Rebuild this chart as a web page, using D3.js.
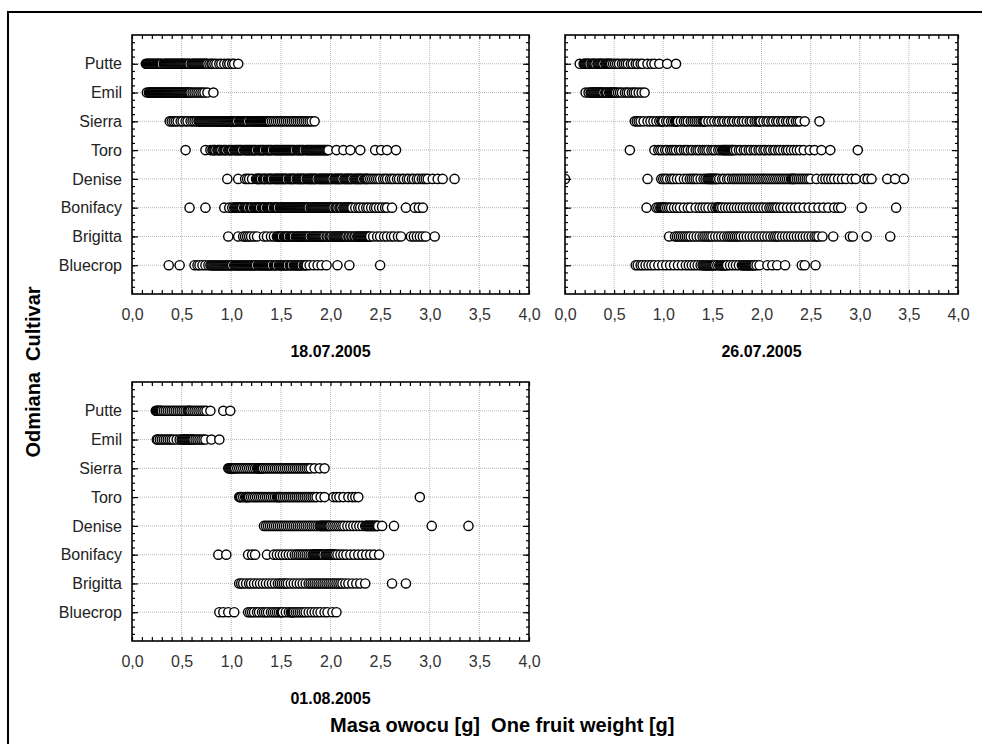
<!DOCTYPE html>
<html lang="pl">
<head>
<meta charset="utf-8">
<title>Masa owocu - odmiany</title>
<script src="https://d3js.org/d3.v7.min.js"></script>
<style>
  body { margin: 0; background: #fff; }
  text { font-family: "Liberation Sans", Arial, sans-serif; }
  .tick text { font-size: 16px; fill: #333; }
  .cat .tick text { fill: #222; }
  .date { font-size: 16px; font-weight: bold; }
  .title { font-size: 20px; font-weight: bold; }
</style>
</head>
<body>
<svg width="982" height="744"></svg>
<script>
// cultivars, top to bottom
const cultivars = ["Putte", "Emil", "Sierra", "Toro", "Denise", "Bonifacy", "Brigitta", "Bluecrop"];
const dates = ["18.07.2005", "26.07.2005", "01.08.2005"];

// --- 18.07.2005, one fruit weight [g]
const putte18 = [0.14,0.15,0.16,0.17,0.18,0.19,0.20,0.21,0.22,0.23,0.24,0.25,0.26,0.27,0.28,0.29,0.30,0.32,0.33,0.34,0.35,0.36,0.37,0.38,0.39,0.40,0.41,0.42,0.43,0.44,0.45,0.46,0.47,0.48,0.49,0.50,0.51,0.52,0.53,0.54,0.55,0.56,0.57,0.58,0.60,0.61,0.62,0.63,0.64,0.65,0.66,0.67,0.68,0.69,0.70,0.71,0.72,0.73,0.74,0.75,0.76,0.78,0.80,0.81,0.83,0.85,0.88,0.90,0.93,0.96,0.98,1.01,1.03,1.07];
const emil18 = [0.15,0.17,0.18,0.19,0.20,0.21,0.22,0.23,0.24,0.25,0.26,0.27,0.28,0.29,0.30,0.31,0.32,0.33,0.34,0.35,0.36,0.37,0.38,0.39,0.40,0.41,0.42,0.43,0.44,0.45,0.46,0.47,0.48,0.49,0.50,0.51,0.52,0.53,0.54,0.55,0.56,0.57,0.58,0.59,0.61,0.63,0.65,0.67,0.69,0.71,0.73,0.76,0.82];
const sierra18 = [0.38,0.40,0.42,0.44,0.46,0.49,0.51,0.54,0.56,0.59,0.61,0.63,0.65,0.67,0.68,0.69,0.70,0.71,0.72,0.73,0.74,0.75,0.76,0.77,0.78,0.79,0.80,0.81,0.82,0.83,0.84,0.85,0.86,0.87,0.88,0.89,0.90,0.91,0.92,0.93,0.94,0.95,0.96,0.97,0.98,0.99,1.00,1.01,1.02,1.03,1.04,1.05,1.06,1.08,1.09,1.10,1.11,1.12,1.13,1.14,1.15,1.16,1.17,1.19,1.20,1.21,1.22,1.23,1.24,1.25,1.26,1.27,1.28,1.29,1.30,1.31,1.32,1.33,1.34,1.35,1.36,1.37,1.38,1.39,1.41,1.43,1.45,1.47,1.49,1.51,1.53,1.55,1.57,1.59,1.61,1.63,1.65,1.67,1.69,1.71,1.73,1.75,1.77,1.79,1.81,1.84];
const toro18 = [0.54,0.74,0.79,0.81,0.82,0.83,0.84,0.86,0.87,0.88,0.89,0.90,0.92,0.93,0.94,0.95,0.97,0.98,0.99,1.00,1.01,1.03,1.04,1.05,1.06,1.07,1.08,1.09,1.10,1.11,1.13,1.14,1.15,1.16,1.17,1.18,1.19,1.20,1.21,1.22,1.23,1.24,1.25,1.27,1.28,1.29,1.30,1.31,1.32,1.33,1.35,1.36,1.37,1.38,1.39,1.40,1.41,1.43,1.44,1.45,1.46,1.47,1.48,1.49,1.50,1.51,1.52,1.53,1.54,1.55,1.56,1.57,1.58,1.59,1.60,1.61,1.62,1.63,1.64,1.66,1.67,1.68,1.69,1.70,1.71,1.72,1.73,1.75,1.76,1.77,1.78,1.79,1.80,1.81,1.82,1.83,1.84,1.85,1.86,1.87,1.88,1.89,1.90,1.91,1.92,1.93,1.94,1.95,1.96,1.97,1.98,2.06,2.13,2.20,2.30,2.45,2.51,2.57,2.66];
const denise18 = [0.96,1.07,1.14,1.16,1.18,1.21,1.25,1.26,1.27,1.28,1.29,1.30,1.32,1.33,1.34,1.35,1.37,1.38,1.39,1.40,1.41,1.43,1.44,1.45,1.46,1.47,1.48,1.49,1.50,1.51,1.52,1.53,1.54,1.55,1.56,1.58,1.59,1.60,1.61,1.62,1.63,1.64,1.66,1.67,1.68,1.69,1.70,1.71,1.72,1.73,1.74,1.76,1.77,1.78,1.79,1.80,1.81,1.82,1.83,1.84,1.85,1.86,1.88,1.89,1.90,1.91,1.92,1.93,1.94,1.95,1.96,1.97,1.98,1.99,2.00,2.01,2.02,2.04,2.05,2.06,2.07,2.08,2.09,2.10,2.11,2.12,2.14,2.15,2.16,2.17,2.18,2.19,2.20,2.21,2.22,2.24,2.25,2.26,2.27,2.28,2.29,2.30,2.31,2.32,2.34,2.35,2.36,2.37,2.38,2.40,2.42,2.44,2.46,2.48,2.50,2.53,2.55,2.57,2.60,2.62,2.64,2.67,2.69,2.72,2.74,2.77,2.79,2.82,2.84,2.87,2.89,2.92,2.94,2.96,2.98,3.03,3.08,3.13,3.25];
const bonifacy18 = [0.58,0.74,0.93,0.98,1.01,1.03,1.04,1.05,1.06,1.07,1.08,1.09,1.10,1.11,1.13,1.14,1.15,1.16,1.17,1.19,1.20,1.21,1.23,1.24,1.25,1.26,1.27,1.28,1.29,1.31,1.32,1.33,1.34,1.36,1.37,1.38,1.39,1.40,1.41,1.43,1.44,1.45,1.46,1.47,1.49,1.50,1.51,1.52,1.53,1.54,1.55,1.56,1.57,1.58,1.59,1.60,1.61,1.62,1.63,1.64,1.65,1.66,1.67,1.68,1.69,1.70,1.71,1.72,1.73,1.74,1.75,1.76,1.77,1.78,1.80,1.81,1.82,1.83,1.84,1.85,1.86,1.87,1.88,1.89,1.90,1.91,1.92,1.93,1.94,1.95,1.96,1.97,1.98,1.99,2.00,2.01,2.02,2.03,2.05,2.06,2.07,2.09,2.10,2.11,2.13,2.14,2.15,2.16,2.17,2.18,2.19,2.20,2.21,2.22,2.25,2.28,2.30,2.33,2.36,2.38,2.41,2.44,2.46,2.49,2.52,2.55,2.57,2.62,2.76,2.85,2.89,2.93];
const brigitta18 = [0.97,1.07,1.12,1.14,1.16,1.18,1.20,1.23,1.26,1.33,1.36,1.40,1.43,1.46,1.47,1.48,1.49,1.50,1.51,1.53,1.54,1.55,1.56,1.57,1.59,1.60,1.61,1.62,1.63,1.65,1.66,1.67,1.68,1.69,1.70,1.71,1.72,1.73,1.74,1.75,1.76,1.77,1.78,1.79,1.81,1.82,1.83,1.84,1.85,1.86,1.87,1.88,1.89,1.90,1.91,1.92,1.93,1.94,1.96,1.97,1.99,2.00,2.01,2.03,2.04,2.05,2.06,2.07,2.08,2.09,2.10,2.11,2.12,2.13,2.14,2.15,2.16,2.18,2.19,2.21,2.22,2.24,2.25,2.27,2.28,2.29,2.30,2.31,2.32,2.33,2.34,2.35,2.36,2.37,2.38,2.39,2.40,2.43,2.47,2.50,2.54,2.57,2.61,2.64,2.68,2.71,2.81,2.84,2.87,2.90,2.93,2.96,3.05];
const bluecrop18 = [0.37,0.48,0.63,0.66,0.68,0.71,0.74,0.77,0.79,0.80,0.81,0.82,0.83,0.84,0.85,0.86,0.87,0.88,0.89,0.90,0.91,0.92,0.93,0.94,0.95,0.96,0.97,0.98,0.99,1.00,1.01,1.03,1.04,1.05,1.06,1.07,1.08,1.09,1.10,1.11,1.12,1.13,1.14,1.15,1.16,1.17,1.18,1.19,1.20,1.21,1.22,1.23,1.24,1.25,1.27,1.28,1.29,1.30,1.31,1.32,1.33,1.34,1.35,1.36,1.37,1.38,1.39,1.40,1.41,1.43,1.44,1.45,1.46,1.48,1.49,1.50,1.51,1.52,1.53,1.54,1.55,1.56,1.57,1.59,1.60,1.61,1.63,1.64,1.65,1.66,1.67,1.68,1.69,1.70,1.71,1.73,1.74,1.75,1.76,1.79,1.83,1.87,1.91,1.96,2.07,2.19,2.50];

// --- 26.07.2005
const putte26 = [0.15,0.19,0.20,0.21,0.22,0.23,0.24,0.25,0.27,0.28,0.29,0.30,0.31,0.33,0.34,0.35,0.36,0.37,0.38,0.39,0.41,0.42,0.43,0.44,0.45,0.46,0.47,0.49,0.51,0.53,0.55,0.58,0.60,0.62,0.64,0.67,0.69,0.72,0.74,0.77,0.79,0.84,0.88,0.91,0.96,1.04,1.13];
const emil26 = [0.21,0.24,0.26,0.27,0.28,0.29,0.30,0.31,0.32,0.33,0.34,0.35,0.36,0.37,0.38,0.39,0.41,0.42,0.43,0.45,0.46,0.47,0.48,0.49,0.50,0.51,0.52,0.54,0.56,0.58,0.61,0.63,0.65,0.68,0.70,0.72,0.75,0.78,0.81];
const sierra26 = [0.71,0.73,0.75,0.77,0.80,0.84,0.87,0.90,0.93,0.96,0.98,0.99,1.00,1.03,1.05,1.08,1.10,1.12,1.13,1.14,1.15,1.18,1.21,1.23,1.25,1.28,1.30,1.32,1.34,1.36,1.38,1.40,1.41,1.42,1.43,1.46,1.49,1.52,1.55,1.57,1.60,1.62,1.65,1.67,1.70,1.72,1.75,1.77,1.80,1.82,1.85,1.88,1.90,1.93,1.95,1.97,1.98,1.99,2.02,2.05,2.07,2.10,2.12,2.15,2.17,2.20,2.22,2.25,2.27,2.30,2.32,2.35,2.37,2.39,2.44,2.59];
const toro26 = [0.66,0.91,0.95,0.97,0.99,1.02,1.04,1.07,1.09,1.11,1.13,1.16,1.18,1.21,1.23,1.25,1.28,1.30,1.33,1.35,1.37,1.40,1.42,1.44,1.46,1.49,1.51,1.53,1.56,1.58,1.60,1.61,1.62,1.63,1.64,1.65,1.66,1.67,1.68,1.69,1.70,1.71,1.72,1.74,1.77,1.79,1.82,1.84,1.87,1.89,1.92,1.94,1.97,1.99,2.02,2.04,2.07,2.09,2.12,2.14,2.17,2.19,2.22,2.25,2.27,2.30,2.33,2.36,2.39,2.43,2.49,2.54,2.61,2.70,2.98];
const denise26 = [0.00,0.84,0.98,1.00,1.02,1.04,1.07,1.09,1.11,1.14,1.17,1.21,1.24,1.27,1.29,1.31,1.33,1.35,1.38,1.41,1.43,1.45,1.46,1.47,1.48,1.49,1.50,1.51,1.52,1.53,1.54,1.55,1.57,1.60,1.62,1.65,1.67,1.70,1.72,1.74,1.76,1.78,1.80,1.82,1.84,1.86,1.88,1.90,1.92,1.94,1.96,1.98,2.00,2.02,2.04,2.06,2.08,2.10,2.12,2.14,2.16,2.18,2.20,2.22,2.24,2.26,2.28,2.30,2.31,2.32,2.33,2.34,2.36,2.38,2.40,2.42,2.44,2.46,2.48,2.50,2.56,2.62,2.65,2.68,2.71,2.74,2.78,2.82,2.86,2.92,2.96,3.05,3.08,3.12,3.28,3.36,3.45];
const bonifacy26 = [0.83,0.93,0.95,0.97,0.98,0.99,1.00,1.01,1.02,1.04,1.06,1.08,1.11,1.14,1.17,1.21,1.25,1.28,1.33,1.37,1.40,1.43,1.46,1.50,1.53,1.55,1.56,1.57,1.58,1.60,1.63,1.66,1.69,1.72,1.75,1.78,1.81,1.84,1.87,1.90,1.93,1.96,1.99,2.02,2.05,2.08,2.10,2.12,2.14,2.16,2.19,2.22,2.26,2.30,2.34,2.38,2.43,2.48,2.53,2.58,2.63,2.68,2.74,2.78,2.81,3.02,3.37];
const brigitta26 = [1.06,1.12,1.14,1.16,1.18,1.20,1.22,1.24,1.26,1.28,1.31,1.34,1.37,1.40,1.42,1.44,1.46,1.48,1.50,1.53,1.56,1.59,1.62,1.65,1.67,1.69,1.71,1.73,1.75,1.77,1.79,1.82,1.85,1.88,1.91,1.94,1.97,2.00,2.03,2.06,2.09,2.12,2.14,2.16,2.18,2.21,2.24,2.27,2.30,2.33,2.36,2.39,2.42,2.45,2.48,2.51,2.54,2.56,2.58,2.62,2.73,2.90,2.93,3.07,3.31];
const bluecrop26 = [0.72,0.74,0.77,0.79,0.82,0.85,0.88,0.91,0.95,0.99,1.03,1.07,1.11,1.15,1.19,1.23,1.26,1.29,1.32,1.35,1.38,1.40,1.41,1.42,1.43,1.44,1.45,1.46,1.47,1.48,1.49,1.50,1.51,1.52,1.53,1.55,1.57,1.58,1.59,1.60,1.61,1.62,1.63,1.64,1.65,1.68,1.71,1.74,1.77,1.80,1.81,1.82,1.83,1.84,1.85,1.86,1.87,1.88,1.89,1.90,1.91,1.92,1.93,1.95,1.98,2.06,2.11,2.16,2.24,2.41,2.44,2.55];

// --- 01.08.2005
const putte01 = [0.24,0.25,0.26,0.27,0.28,0.29,0.30,0.32,0.34,0.36,0.38,0.40,0.42,0.44,0.46,0.48,0.50,0.52,0.54,0.56,0.57,0.58,0.59,0.61,0.63,0.65,0.67,0.69,0.71,0.73,0.75,0.79,0.92,0.99];
const emil01 = [0.25,0.26,0.28,0.30,0.32,0.34,0.36,0.38,0.40,0.42,0.45,0.48,0.50,0.51,0.52,0.53,0.54,0.55,0.56,0.57,0.58,0.59,0.60,0.61,0.62,0.64,0.66,0.68,0.70,0.72,0.74,0.80,0.88];
const sierra01 = [0.97,0.98,0.99,1.00,1.01,1.02,1.03,1.04,1.06,1.08,1.10,1.12,1.14,1.16,1.18,1.20,1.22,1.24,1.26,1.27,1.28,1.29,1.30,1.31,1.32,1.34,1.36,1.38,1.40,1.42,1.44,1.46,1.48,1.50,1.52,1.54,1.56,1.58,1.60,1.62,1.64,1.66,1.68,1.70,1.72,1.74,1.76,1.78,1.80,1.84,1.89,1.94];
const toro01 = [1.08,1.09,1.10,1.12,1.14,1.15,1.16,1.17,1.18,1.20,1.22,1.24,1.26,1.28,1.30,1.32,1.34,1.36,1.38,1.40,1.42,1.44,1.46,1.47,1.48,1.49,1.50,1.52,1.54,1.56,1.58,1.60,1.62,1.64,1.66,1.68,1.70,1.72,1.74,1.76,1.78,1.80,1.82,1.84,1.86,1.90,1.94,2.03,2.06,2.09,2.13,2.18,2.22,2.25,2.28,2.90];
const denise01 = [1.33,1.35,1.37,1.39,1.41,1.43,1.45,1.47,1.49,1.51,1.53,1.55,1.57,1.59,1.61,1.63,1.65,1.67,1.69,1.71,1.73,1.75,1.77,1.79,1.81,1.83,1.85,1.87,1.89,1.90,1.91,1.92,1.93,1.94,1.95,1.96,1.97,1.98,1.99,2.00,2.02,2.04,2.06,2.08,2.10,2.12,2.14,2.17,2.20,2.23,2.26,2.29,2.32,2.35,2.36,2.37,2.38,2.39,2.40,2.41,2.42,2.43,2.44,2.45,2.46,2.47,2.48,2.52,2.64,3.02,3.39];
const bonifacy01 = [0.87,0.95,1.17,1.21,1.24,1.36,1.43,1.46,1.49,1.52,1.55,1.58,1.61,1.64,1.66,1.68,1.70,1.72,1.74,1.76,1.78,1.80,1.82,1.83,1.84,1.85,1.86,1.87,1.88,1.89,1.90,1.91,1.92,1.93,1.95,1.96,1.97,1.98,1.99,2.00,2.01,2.02,2.03,2.04,2.05,2.07,2.10,2.13,2.16,2.20,2.24,2.28,2.32,2.36,2.40,2.44,2.49];
const brigitta01 = [1.08,1.10,1.12,1.15,1.18,1.20,1.23,1.26,1.29,1.32,1.35,1.38,1.41,1.44,1.47,1.49,1.51,1.53,1.55,1.57,1.60,1.63,1.66,1.69,1.72,1.75,1.78,1.80,1.82,1.84,1.86,1.88,1.90,1.92,1.94,1.96,1.98,2.00,2.02,2.04,2.06,2.08,2.10,2.12,2.15,2.18,2.22,2.26,2.30,2.35,2.62,2.76];
const bluecrop01 = [0.88,0.92,0.97,1.03,1.17,1.19,1.21,1.23,1.26,1.28,1.31,1.33,1.35,1.37,1.40,1.42,1.44,1.46,1.48,1.50,1.51,1.52,1.55,1.58,1.60,1.61,1.62,1.63,1.65,1.67,1.69,1.71,1.73,1.75,1.78,1.81,1.84,1.87,1.90,1.94,1.97,2.02,2.06];

const series18 = [putte18, emil18, sierra18, toro18, denise18, bonifacy18, brigitta18, bluecrop18];
const series26 = [putte26, emil26, sierra26, toro26, denise26, bonifacy26, brigitta26, bluecrop26];
const series01 = [putte01, emil01, sierra01, toro01, denise01, bonifacy01, brigitta01, bluecrop01];

const svg = d3.select("svg");
const fmt = v => d3.format(".1f")(v).replace(".", ",");

// outer frame (runs off the right and bottom edge)
svg.append("rect")
   .attr("x", 8).attr("y", 12)
   .attr("width", 1000).attr("height", 760)
   .attr("fill", "none").attr("stroke", "#000").attr("stroke-width", 2);

const panels = [
  {date: dates[0], data: series18, x0: 132, x1: 529, y0: 35,  y1: 294, labels: true},
  {date: dates[1], data: series26, x0: 565, x1: 958, y0: 35,  y1: 294, labels: false},
  {date: dates[2], data: series01, x0: 132, x1: 529, y0: 382, y1: 641, labels: true}
];

panels.forEach((p, pi) => {
  const x = d3.scaleLinear().domain([0, 4]).range([p.x0, p.x1]);
  const y = d3.scaleLinear().domain([0, 9]).range([p.y0, p.y1]);
  const g = svg.append("g");

  g.append("clipPath").attr("id", "clip" + pi)
   .append("rect").attr("x", p.x0).attr("y", p.y0)
   .attr("width", p.x1 - p.x0).attr("height", p.y1 - p.y0);

  // dotted grid
  g.selectAll(".vg").data(d3.range(1, 8).map(i => i * 0.5)).enter()
   .append("line")
   .attr("x1", d => x(d)).attr("x2", d => x(d))
   .attr("y1", p.y0).attr("y2", p.y1)
   .attr("stroke", "#b8b8b8").attr("stroke-dasharray", "1,1");
  g.selectAll(".hg").data(cultivars).enter()
   .append("line")
   .attr("x1", p.x0).attr("x2", p.x1)
   .attr("y1", (d, i) => y(i + 1)).attr("y2", (d, i) => y(i + 1))
   .attr("stroke", "#b8b8b8").attr("stroke-dasharray", "1,1");

  // points, drawn left to right so overlaps read as "((((O"
  const pts = g.append("g").attr("clip-path", "url(#clip" + pi + ")");
  p.data.forEach((vals, ci) => {
    pts.selectAll(null).data(vals.slice().sort(d3.ascending)).enter()
       .append("circle")
       .attr("cx", d => x(d))
       .attr("cy", y(ci + 1))
       .attr("r", 4.6)
       .attr("fill", "#fff")
       .attr("stroke", "#000")
       .attr("stroke-width", 1.4);
  });

  // inward ticks on all four sides
  const minorY = d3.range(1, 36).map(i => i * 0.25);
  g.append("g").attr("transform", `translate(0,${p.y1})`)
   .call(d3.axisBottom(x).ticks(40).tickSize(-4).tickFormat(""));
  g.append("g").attr("transform", `translate(0,${p.y0})`)
   .call(d3.axisTop(x).ticks(40).tickSize(-4).tickFormat(""));
  g.append("g").attr("transform", `translate(${p.x0},0)`)
   .call(d3.axisLeft(y).tickValues(minorY).tickSize(-3).tickFormat(""));
  g.append("g").attr("transform", `translate(${p.x1},0)`)
   .call(d3.axisRight(y).tickValues(minorY).tickSize(-3).tickFormat(""));
  g.append("g").attr("transform", `translate(${p.x0},0)`)
   .call(d3.axisLeft(y).tickValues(d3.range(1, 9)).tickSize(-6).tickFormat(""));
  g.append("g").attr("transform", `translate(${p.x1},0)`)
   .call(d3.axisRight(y).tickValues(d3.range(1, 9)).tickSize(-6).tickFormat(""));

  // tick labels
  g.append("g").attr("transform", `translate(0,${p.y1})`)
   .call(d3.axisBottom(x).ticks(8).tickSize(0).tickPadding(15).tickFormat(fmt));
  if (p.labels) {
    g.append("g").attr("class", "cat").attr("transform", `translate(${p.x0},0)`)
     .call(d3.axisLeft(y).tickValues(d3.range(1, 9)).tickSize(0).tickPadding(10)
           .tickFormat(i => cultivars[i - 1]));
  }

  g.selectAll(".domain").remove();
  g.selectAll(".tick line").attr("stroke", "#000").attr("stroke-width", 1.2);

  // plot frame
  g.append("rect")
   .attr("x", p.x0).attr("y", p.y0)
   .attr("width", p.x1 - p.x0).attr("height", p.y1 - p.y0)
   .attr("fill", "none").attr("stroke", "#000").attr("stroke-width", 1.6);

  g.append("text").attr("class", "date")
   .attr("x", (p.x0 + p.x1) / 2).attr("y", p.y1 + 63)
   .attr("text-anchor", "middle")
   .text(p.date);
});

svg.append("text").attr("class", "title")
   .attr("x", 330).attr("y", 732)
   .style("white-space", "pre")
   .text("Masa owocu [g]  One fruit weight [g]");

svg.append("text").attr("class", "title")
   .attr("transform", "translate(40,372) rotate(-90)")
   .attr("text-anchor", "middle")
   .style("white-space", "pre")
   .text("Odmiana  Cultivar");
</script>
</body>
</html>
